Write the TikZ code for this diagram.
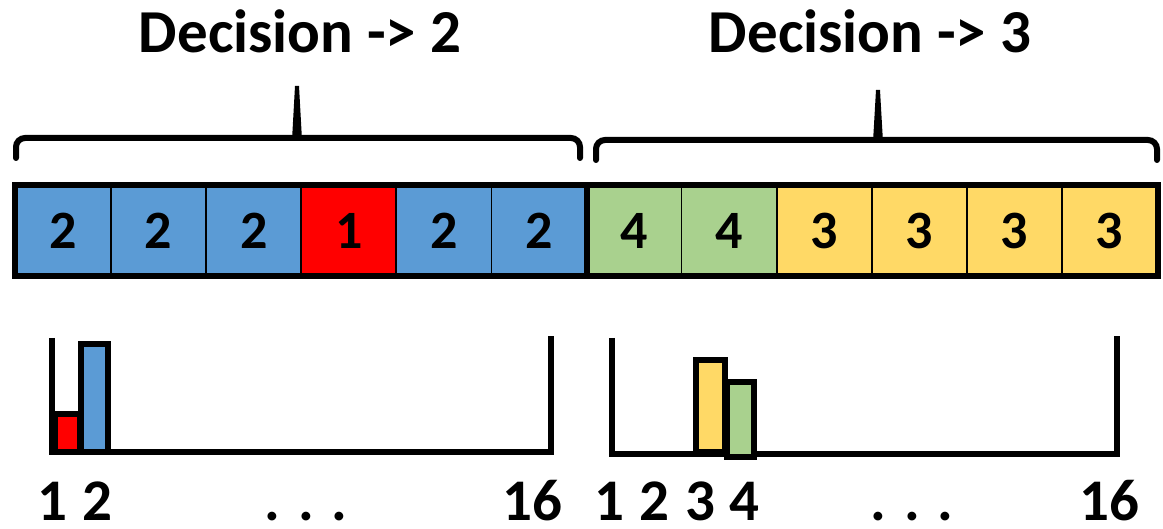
\documentclass[tikz,border=0pt]{standalone}
\usepackage{fontspec}
\setmainfont{Carlito}
\definecolor{cblue}{HTML}{5B9BD5}
\definecolor{cred}{HTML}{FF0000}
\definecolor{cgreen}{HTML}{A9D18E}
\definecolor{cyellow}{HTML}{FFD966}
\tikzset{
  cell/.style={draw=black, line width=1.8pt, minimum width=95.08pt, minimum height=89pt,
    inner sep=0pt, font=\fontsize{54}{54}\selectfont\bfseries},
  title/.style={anchor=base, inner sep=0pt, font=\fontsize{61}{61}\selectfont\bfseries},
  tick/.style={anchor=base, inner sep=0pt, font=\fontsize{59}{59}\selectfont\bfseries},
  brace/.style={line width=6pt, line cap=round},
  thick border/.style={line width=6pt},
  bar/.style={draw=black, line width=5.5pt},
  axis/.style={line width=5.5pt}
}
\begin{document}
\begin{tikzpicture}[x=1pt,y=-1pt]
\useasboundingbox (0,0) rectangle (1163,529);

% strip of twelve cells
\foreach \i/\v/\c in {1/2/cblue,2/2/cblue,3/2/cblue,4/1/cred,5/2/cblue,6/2/cblue,
                      7/4/cgreen,8/4/cgreen,9/3/cyellow,10/3/cyellow,11/3/cyellow,12/3/cyellow}{
  \node[cell, fill=\c] (c\i) at ({16+(\i-0.5)*95.083}, 230.5) {\v};
}
\draw[thick border] (c1.north west) rectangle (c12.south east);
\draw[thick border] (c6.north east) -- (c6.south east);

% braces (y axis points down, so arcs run 180->270 and 270->360)
\coordinate (bl1) at (16,158);  \coordinate (br1) at (580,158);
\coordinate (bl2) at (596,160); \coordinate (br2) at (1157,160);
\draw[brace] (bl1) -- (16,147) arc[start angle=180, end angle=270, radius=9] -- (571,138)
  arc[start angle=270, end angle=360, radius=9] -- (br1);
\fill (292,140) -- (295,86) -- (299,86) -- (302,140) -- cycle;
\draw[brace] (bl2) -- (596,149) arc[start angle=180, end angle=270, radius=9] -- (1148,140)
  arc[start angle=270, end angle=360, radius=9] -- (br2);
\fill (873,142) -- (876,90) -- (880,90) -- (883,142) -- cycle;

% titles
\node[title] (t1) at (300,53) {Decision -> 2};
\node[title] (t2) at (870,53) {Decision -> 3};

% left histogram
\draw[bar, fill=cred] (55,452) rectangle (80,414);
\draw[bar, fill=cblue] (81,452) rectangle (108,344);
\draw[axis] (52,338) -- (52,452) -- (551,452) -- (551,336);
\node[tick] (l1) at (52,520) {1};
\node[tick] (l2) at (97,520) {2};
\node[tick] (ld) at (306,520) {. . .};
\node[tick] (l16) at (532,520) {16};

% right histogram
\draw[bar, fill=cyellow] (696,452) rectangle (725,360);
\draw[axis] (612,338) -- (612,454) -- (1117,454) -- (1117,336);
\draw[bar, fill=cgreen] (727,457) rectangle (754,382);
\node[tick] (r1) at (609,520) {1};
\node[tick] (r2) at (654,520) {2};
\node[tick] (r3) at (700,520) {3};
\node[tick] (r4) at (744,520) {4};
\node[tick] (rd) at (912,520) {. . .};
\node[tick] (r16) at (1109,520) {16};
\end{tikzpicture}
\end{document}
